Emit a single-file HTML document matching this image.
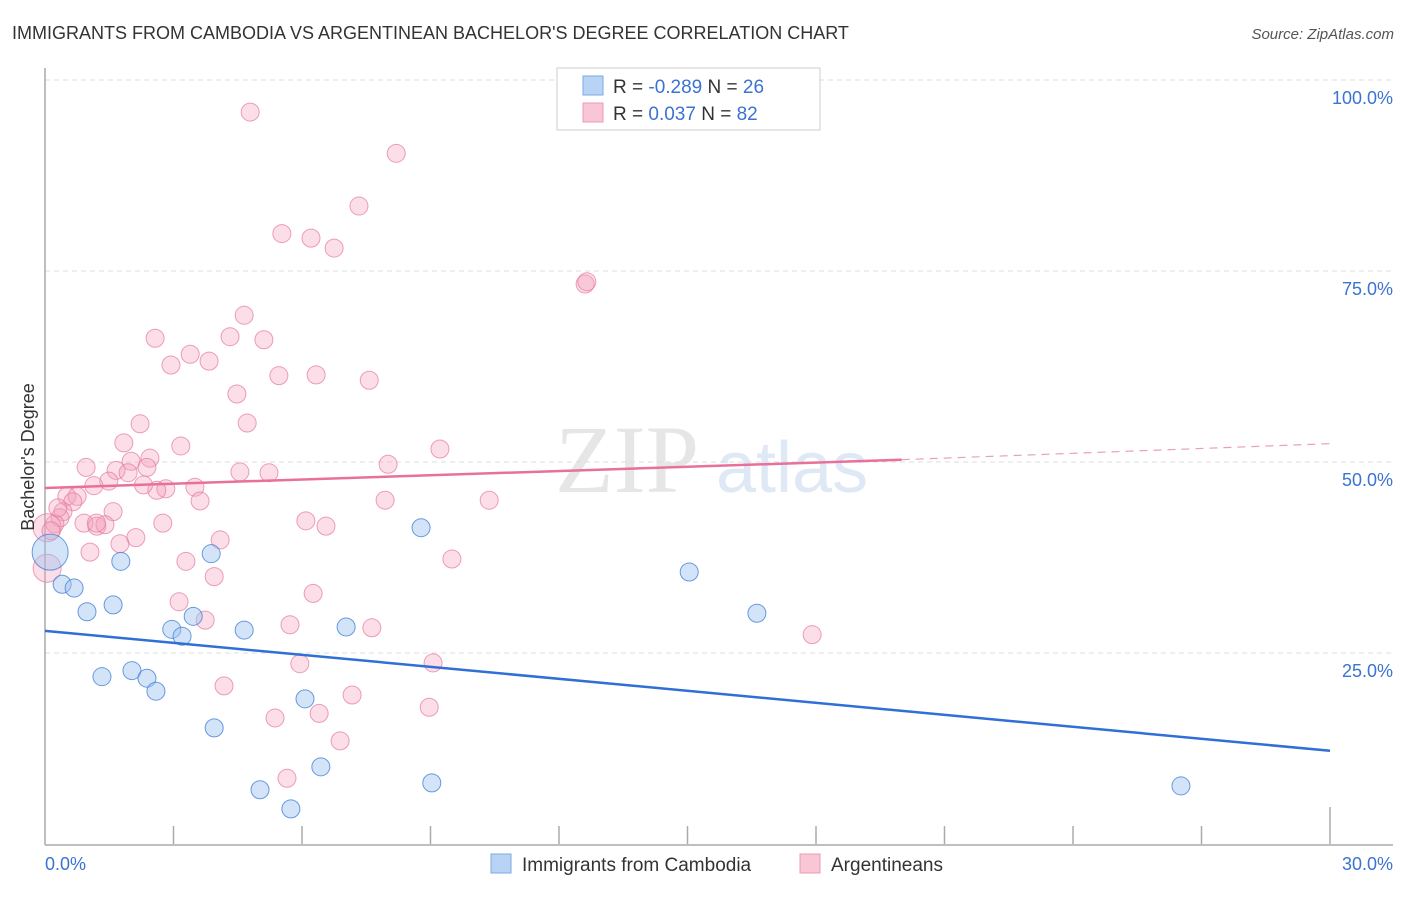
<!DOCTYPE html>
<html><head><meta charset="utf-8"><style>
body{margin:0;background:#fff;font-family:"Liberation Sans",sans-serif}
</style></head><body>
<svg id="chart" width="1406" height="892" xmlns="http://www.w3.org/2000/svg" font-family="Liberation Sans, sans-serif">
<text x="12" y="39" font-size="18" fill="#333">IMMIGRANTS FROM CAMBODIA VS ARGENTINEAN BACHELOR'S DEGREE CORRELATION CHART</text>
<text x="1394" y="39" font-size="15" fill="#555" font-style="italic" text-anchor="end">Source: ZipAtlas.com</text>
<text x="555" y="492" font-size="96" fill="#e6e6e6" font-family="Liberation Serif, serif">ZIP</text>
<text x="716" y="492" font-size="72" fill="#dfe8f5">atlas</text>
<g id="grid"></g>
<g id="axes"></g>
<g id="pts"></g>
<g id="trend"></g>
<text transform="translate(34,457) rotate(-90)" font-size="18" fill="#333" text-anchor="middle">Bachelor's Degree</text>
<g>
<rect x="557" y="68" width="263" height="62" fill="#fff" stroke="#ccc"/>
<rect x="583" y="76" width="20" height="19" fill="#b9d3f5" stroke="#7aa8e6"/>
<rect x="583" y="103" width="20" height="19" fill="#f9c6d6" stroke="#ec9ab5"/>
<text x="613" y="93" font-size="19" fill="#333">R = <tspan fill="#3b73d1">-0.289</tspan>   N = <tspan fill="#3b73d1">26</tspan></text>
<text x="613" y="120" font-size="19" fill="#333">R =  <tspan fill="#3b73d1"> 0.037</tspan>   N = <tspan fill="#3b73d1">82</tspan></text>
</g>
<g>
<rect x="491" y="854" width="20" height="19" fill="#b9d3f5" stroke="#7aa8e6"/>
<text x="522" y="871" font-size="19" fill="#333">Immigrants from Cambodia</text>
<rect x="800" y="854" width="20" height="19" fill="#f9c6d6" stroke="#ec9ab5"/>
<text x="831" y="871" font-size="19" fill="#333">Argentineans</text>
</g>
</svg>
<script>
const yTicks=[25,50,75,100];
const yTickLabels=["25.0%","50.0%","75.0%","100.0%"];
const xTicks=[3,6,9,12,15,18,21,24,27,30];
const blueX=[0.12,0.4,0.68,0.98,1.59,1.77,1.33,2.03,2.38,2.59,2.96,3.2,3.46,3.88,3.95,4.65,5.02,5.74,6.07,6.44,7.03,8.78,9.03,15.04,16.62,26.52];
const blueY=[38.2,34.0,33.5,30.4,31.3,37.0,21.9,22.7,21.7,20.0,28.1,27.2,29.8,38.0,15.2,28.0,7.1,4.6,19.0,10.1,28.4,41.4,8.0,35.6,30.2,7.6];
const blueR=[18,9,9,9,9,9,9,9,9,9,9,9,9,9,9,9,9,9,9,9,9,9,9,9,9,9];
const pinkX=[4.79,8.2,7.33,5.53,6.21,6.75,12.61,12.65,4.65,2.57,4.32,5.11,3.39,3.83,2.94,5.46,6.33,7.57,4.48,2.22,4.72,1.84,3.17,9.22,2.45,2.01,8.01,0.96,1.66,2.38,4.55,5.23,1.94,1.49,1.14,3.5,2.82,2.61,0.51,0.75,0.65,3.62,7.94,10.37,0.42,1.59,0.35,6.09,6.56,2.75,0.91,0.23,1.21,1.4,0.05,0.14,2.12,1.75,4.09,1.05,9.5,3.29,0.05,3.95,6.26,3.13,3.74,5.72,7.63,17.91,5.95,9.06,4.18,7.17,8.97,5.37,6.4,6.89,5.65,1.2,2.3,0.3];
const pinkY=[95.8,90.4,83.5,79.9,79.3,78.0,73.3,73.6,69.2,66.2,66.4,66.0,64.1,63.2,62.7,61.3,61.4,60.7,58.9,55.0,55.1,52.5,52.1,51.7,50.5,50.1,49.7,49.3,48.9,49.3,48.7,48.6,48.6,47.5,46.9,46.7,46.5,46.3,45.5,45.5,44.8,44.9,45.0,45.0,43.5,43.5,42.7,42.3,41.6,42.0,42.0,41.9,41.6,41.8,41.4,41.0,40.1,39.3,39.8,38.2,37.3,37.0,36.1,35.0,32.8,31.7,29.3,28.7,28.3,27.4,23.6,23.7,20.7,19.5,17.9,16.5,17.1,13.5,8.6,42.0,47.0,44.0];
const pinkR=[9,9,9,9,9,9,9,9,9,9,9,9,9,9,9,9,9,9,9,9,9,9,9,9,9,9,9,9,9,9,9,9,9,9,9,9,9,9,9,9,9,9,9,9,9,9,9,9,9,9,9,9,9,9,14,9,9,9,9,9,9,9,14,9,9,9,9,9,9,9,9,9,9,9,9,9,9,9,9,9,9,9];
const blueTrend=[[0,27.9],[30,12.2]];
const pinkTrend=[[0,46.6],[20,50.3]];
const pinkDash=[[20,50.3],[30,52.4]];
const X0=45,X1=1330,Y0=844,Y100=80;
const sx=v=>X0+(X1-X0)*v/30, sy=v=>Y0-(Y0-Y100)*v/100;
const NS="http://www.w3.org/2000/svg";
function mk(p,t,a){const e=document.createElementNS(NS,t);for(const k in a)e.setAttribute(k,a[k]);p.appendChild(e);return e;}
const grid=document.getElementById('grid'),axes=document.getElementById('axes'),pts=document.getElementById('pts'),tr=document.getElementById('trend');
yTicks.forEach((v,i)=>{
 const l=mk(grid,'line',{x1:X0,x2:1393,y1:sy(v),y2:sy(v),stroke:'#ddd','stroke-dasharray':'5,4'});
 
 
 const t=mk(grid,'text',{x:1393,y:sy(v)+24,'font-size':18,fill:'#3b73d1','text-anchor':'end'});
 t.textContent=yTickLabels[i];
 
 
});
let a=mk(axes,'line',{x1:X0,x2:X0,y1:68,y2:Y0+1,stroke:'#aaa','stroke-width':1.5});


a=mk(axes,'line',{x1:X0,x2:1393,y1:Y0+1,y2:Y0+1,stroke:'#aaa','stroke-width':1.5});


xTicks.forEach(v=>{
 const tk=mk(axes,'line',{x1:sx(v),x2:sx(v),y1:v===30?807:826,y2:Y0,stroke:'#aaa','stroke-width':1.5});
 
 
});
let t=mk(axes,'text',{x:45,y:870,'font-size':18,fill:'#3b73d1'});t.textContent='0.0%';


t=mk(axes,'text',{x:1393,y:870,'font-size':18,fill:'#3b73d1','text-anchor':'end'});t.textContent='30.0%';


pinkX.forEach((v,i)=>{
 const c=mk(pts,'circle',{cx:sx(v),cy:sy(pinkY[i]),r:pinkR[i],fill:'rgba(244,160,188,0.35)',stroke:'rgba(230,120,155,0.7)','stroke-width':1});
 
 
});
blueX.forEach((v,i)=>{
 const c=mk(pts,'circle',{cx:sx(v),cy:sy(blueY[i]),r:blueR[i],fill:'rgba(160,195,240,0.45)',stroke:'rgba(70,130,215,0.8)','stroke-width':1});
 
 
});
function ln(d,col,dash,name,w){const e=mk(tr,'line',{x1:sx(d[0][0]),y1:sy(d[0][1]),x2:sx(d[1][0]),y2:sy(d[1][1]),stroke:col,'stroke-width':w});if(dash)e.setAttribute('stroke-dasharray',dash);return e;}
let e=ln(blueTrend,'#2f6fd6',null,'',2.5);


e=ln(pinkTrend,'#e8709a',null,'',2.5);


e=ln(pinkDash,'#e8a0b8','8,6','',1.2);


</script>
</body></html>
